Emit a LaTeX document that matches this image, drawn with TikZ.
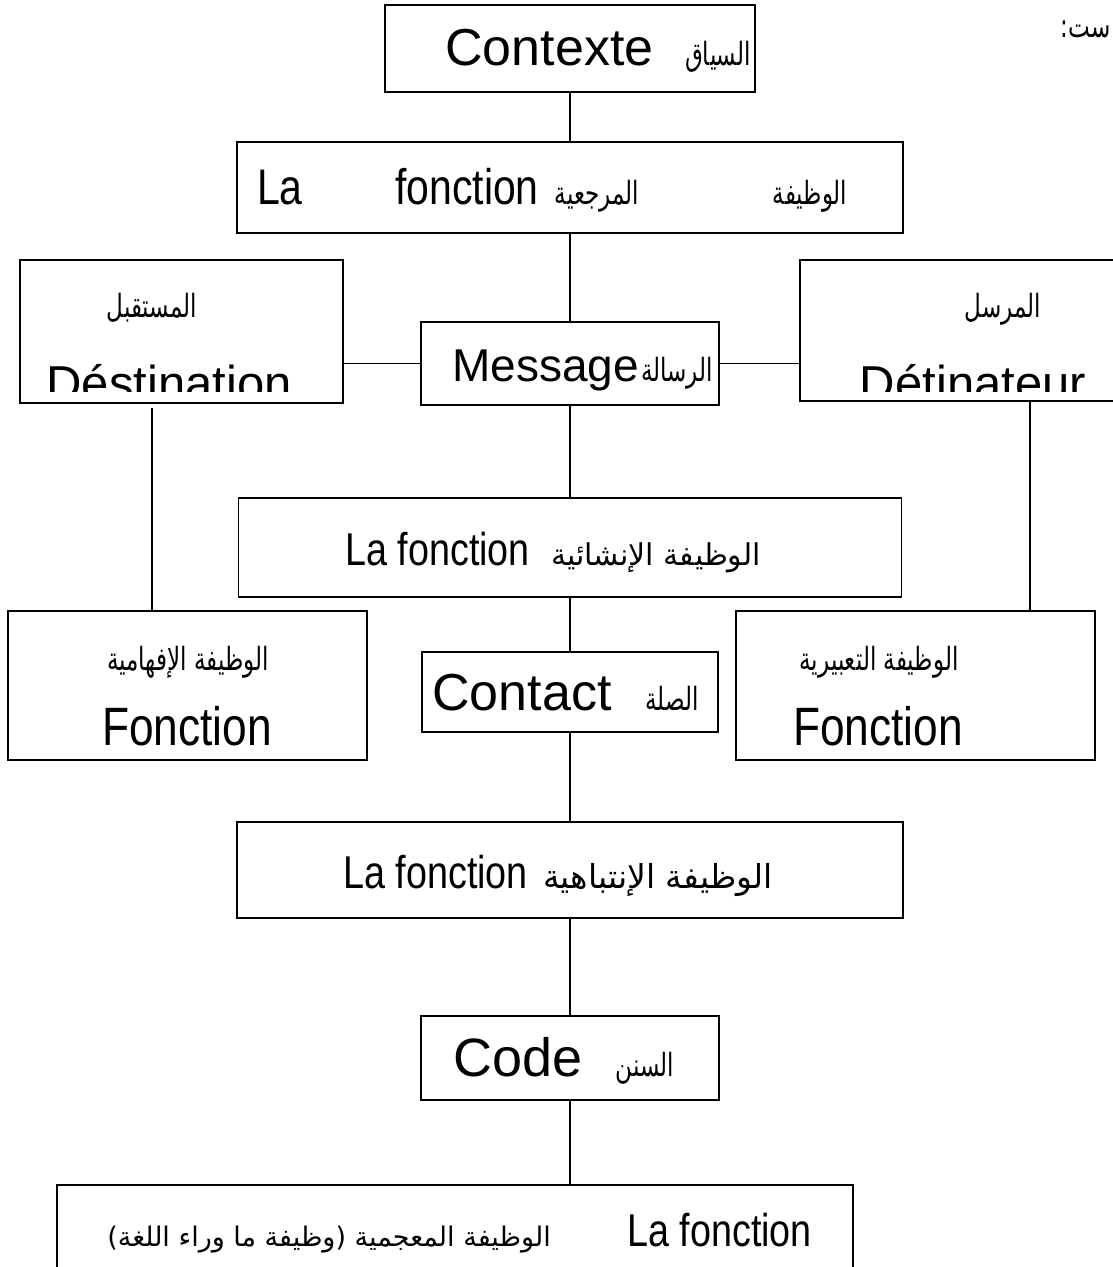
\documentclass[tikz,border=0pt]{standalone}
\usepackage{fontspec}
\setmainfont{Liberation Sans}
\newfontfamily\narrowfont[FakeStretch=0.82]{Liberation Sans}
\newfontfamily\arabicfont[Script=Arabic,FakeStretch=0.72]{DejaVu Sans}
\newfontfamily\arabicwide[Script=Arabic]{DejaVu Sans}
\TeXXeTstate=1
\newcommand{\arsize}{\fontsize{16}{18}\selectfont}
\begin{document}
\begin{tikzpicture}[x=0.5pt,y=-0.5pt,
  box/.style={draw, line width=0.9pt, inner sep=0pt, rectangle},
  lat/.style={font=\fontsize{26}{30}\selectfont, inner sep=0pt, anchor=base},
  nar/.style={font=\narrowfont\fontsize{23}{30}\selectfont, inner sep=0pt, anchor=base},
  ara/.style={font=\arabicfont\arsize, inner sep=0pt, anchor=base},
  conn/.style={line width=0.9pt}]
\useasboundingbox (0,0) rectangle (1112,1267);
\fill[white] (0,0) rectangle (1112,1267);

% boxes
\node[box, minimum width=185pt, minimum height=43.5pt] (ctx) at (570,48.5) {};
\node[box, minimum width=333pt, minimum height=45.5pt] (ref) at (570,187.5) {};
\node[box, minimum width=161.5pt, minimum height=71.5pt] (dst) at (181.5,331.5) {};
\node[box, minimum width=149pt, minimum height=41.5pt] (msg) at (570,363.5) {};
\node[box, minimum width=160pt, minimum height=70.5pt] (snd) at (960,330.5) {};
\node[box, minimum width=331.5pt, minimum height=49.5pt] (poe) at (570,547.5) {};
\node[box, minimum width=148pt, minimum height=40pt] (ctc) at (570,692) {};
\node[box, minimum width=179.5pt, minimum height=74.5pt] (fcon) at (187.5,685.5) {};
\node[box, minimum width=179.5pt, minimum height=74.5pt] (emo) at (915.5,685.5) {};
\node[box, minimum width=333pt, minimum height=48pt] (pha) at (570,870) {};
\node[box, minimum width=149pt, minimum height=42pt] (code) at (570,1058) {};
\node[box, minimum width=398pt, minimum height=47pt] (meta) at (455,1232) {};

% connectors
\draw[conn] (ctx.south) -- (ref.north);
\draw[conn] (ref.south) -- (msg.north);
\draw[conn] (msg.south) -- (poe.north);
\draw[conn] (poe.south) -- (ctc.north);
\draw[conn] (ctc.south) -- (pha.north);
\draw[conn] (pha.south) -- (code.north);
\draw[conn] (code.south) -- (code.south |- meta.north);
\draw[conn] (msg.west) -- (msg.west -| dst.east);
\draw[conn] (msg.east) -- (msg.east -| snd.west);
\coordinate (dl) at (152,408);
\draw[conn] (dl) -- (dl |- fcon.north);
\coordinate (dr) at (1030,401);
\draw[conn] (dr) -- (dr |- emo.north);

% texts
\node[lat, anchor=base west] (tctx1) at (445,66) {Contexte};
\node[ara] (tctx2) at (718,66) {\beginR السياق\endR};

\node[nar, font=\narrowfont\fontsize{25}{30}\selectfont] (tref1) at (280,205) {La};
\node[nar, font=\narrowfont\fontsize{25}{30}\selectfont] (tref2) at (467,205) {fonction};
\node[ara] (tref3) at (597,205) {\beginR المرجعية\endR};
\node[ara] (tref4) at (810,205) {\beginR الوظيفة\endR};

\node[lat, anchor=base west, font=\fontsize{23}{30}\selectfont] (tmsg1) at (452,381) {Message};
\node[ara] (tmsg2) at (677,381) {\beginR الرسالة\endR};

\node[nar, anchor=base west] (tpoe1) at (345,565) {La fonction};
\node[ara, font=\arabicwide\fontsize{15}{18}\selectfont] (tpoe2) at (656,565) {\beginR الوظيفة الإنشائية\endR};

\node[lat, anchor=base west] (tctc1) at (432,710) {Contact};
\node[ara] (tctc2) at (672,710) {\beginR الصلة\endR};

\node[nar, anchor=base west] (tpha1) at (343,888) {La fonction};
\node[ara, font=\arabicwide\fontsize{16.5}{18}\selectfont] (tpha2) at (658,888) {\beginR الوظيفة الإنتباهية\endR};

\node[lat, anchor=base west, font=\fontsize{27}{30}\selectfont] (tcode1) at (453,1076) {Code};
\node[ara] (tcode2) at (645,1076) {\beginR السنن\endR};

\node[ara, font=\arabicwide\fontsize{13.5}{18}\selectfont] (tmeta1) at (329,1246) {\beginR الوظيفة المعجمية (وظيفة ما وراء اللغة)\endR};
\node[nar, anchor=base west] (tmeta2) at (627,1246) {La fonction};

\node[ara] (tdst1) at (152,318) {\beginR المستقبل\endR};
\node[ara] (tsnd1) at (1003,318) {\beginR المرسل\endR};
\begin{scope}
  \clip (0,340) rectangle (1112,391);
  \node[lat, font=\fontsize{24.5}{30}\selectfont] (tdst2) at (169,400) {Déstination};
  \node[lat, font=\fontsize{24.5}{30}\selectfont] (tsnd2) at (973,400) {Détinateur};
\end{scope}

\node[ara] (tfcon1) at (188,670) {\beginR الوظيفة الإفهامية\endR};
\node[nar, font=\narrowfont\fontsize{27}{30}\selectfont] (tfcon2) at (187,745) {Fonction};
\node[ara] (temo1) at (879,670) {\beginR الوظيفة التعبيرية\endR};
\node[nar, font=\narrowfont\fontsize{27}{30}\selectfont] (temo2) at (878,745) {Fonction};

\node[ara, anchor=base east] (ttop) at (1111,38) {\beginR ست:\endR};
\end{tikzpicture}
\end{document}
